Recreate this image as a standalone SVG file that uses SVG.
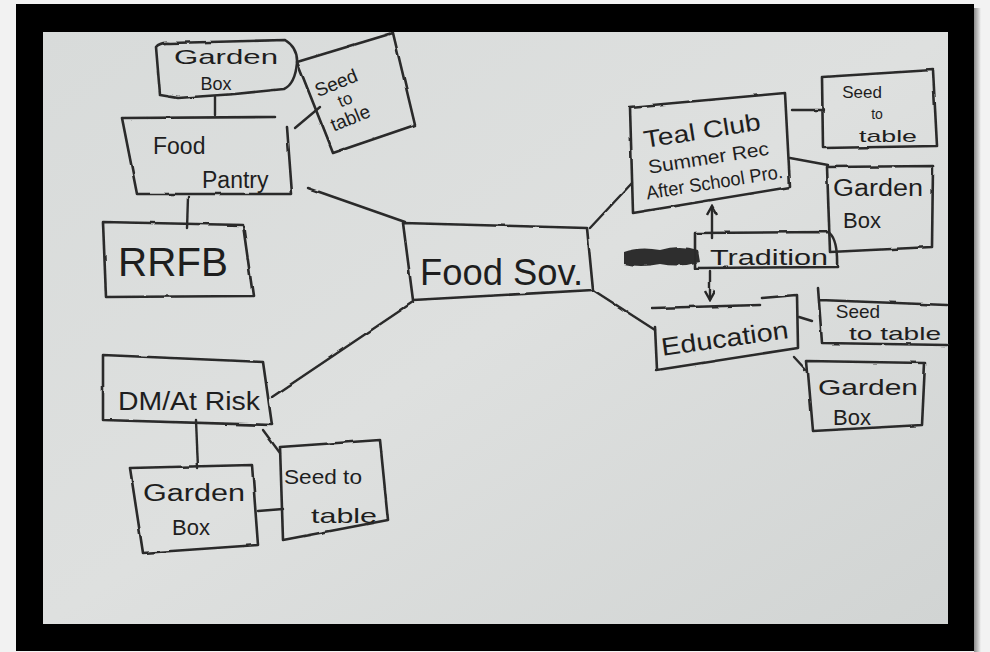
<svg xmlns="http://www.w3.org/2000/svg" width="990" height="652" viewBox="0 0 990 652">
  <defs>
    <linearGradient id="paper" x1="0" y1="0" x2="1" y2="1">
      <stop offset="0" stop-color="#d8dbda"/>
      <stop offset="0.5" stop-color="#dee0df"/>
      <stop offset="1" stop-color="#d1d4d3"/>
    </linearGradient>
    <linearGradient id="shadowR" x1="0" y1="0" x2="1" y2="0">
      <stop offset="0" stop-color="#8a8a8a"/>
      <stop offset="1" stop-color="#f2f2f2"/>
    </linearGradient>
    <filter id="rough" x="-5%" y="-5%" width="110%" height="110%">
      <feTurbulence type="fractalNoise" baseFrequency="0.05" numOctaves="2" seed="3" result="n"/>
      <feDisplacementMap in="SourceGraphic" in2="n" scale="2.5" xChannelSelector="R" yChannelSelector="G"/>
    </filter>
    <marker id="ah" viewBox="0 0 12 12" refX="10" refY="6" markerWidth="12" markerHeight="12" markerUnits="userSpaceOnUse" orient="auto">
      <path d="M1,1 L10,6 L1,11" fill="none" stroke="#262626" stroke-width="2.4"/>
    </marker>
  </defs>
  <style>
    .box { fill: none; stroke: #2a2a2a; stroke-width: 2.6; stroke-linejoin: round; stroke-linecap: round; }
    .ln { fill: none; stroke: #2a2a2a; stroke-width: 2.4; stroke-linecap: round; }
    .t { font-family: "Liberation Sans", "DejaVu Sans", sans-serif; fill: #1e1e1e; }
  </style>

  <!-- frame -->
  <rect x="0" y="0" width="990" height="652" fill="#f2f2f2"/>
  <rect x="974" y="8" width="7" height="644" fill="url(#shadowR)"/>
  <rect x="16" y="4" width="958" height="647" fill="#000"/>
  <rect x="43" y="32" width="905" height="592" fill="url(#paper)"/>

  <!-- connectors -->
  <g id="connectors" filter="url(#rough)">
    <line class="ln" x1="215" y1="97" x2="215" y2="115"/>
    <line class="ln" x1="295" y1="128" x2="320" y2="107"/>
    <line class="ln" x1="188" y1="197" x2="187" y2="228"/>
    <line class="ln" x1="308" y1="188" x2="405" y2="222"/>
    <line class="ln" x1="590" y1="228" x2="632" y2="183"/>
    <line class="ln" x1="593" y1="290" x2="655" y2="330"/>
    <line class="ln" x1="413" y1="302" x2="272" y2="397"/>
    <line class="ln" x1="196" y1="420" x2="198" y2="468"/>
    <line class="ln" x1="263" y1="430" x2="280" y2="453"/>
    <line class="ln" x1="258" y1="511" x2="283" y2="509"/>
    <line class="ln" x1="792" y1="110" x2="823" y2="110"/>
    <line class="ln" x1="790" y1="158" x2="828" y2="165"/>
    <line class="ln" x1="799" y1="317" x2="812" y2="321"/>
    <line class="ln" x1="794" y1="357" x2="806" y2="370"/>
    <line class="ln" x1="712" y1="238" x2="712" y2="206" marker-end="url(#ah)"/>
    <line class="ln" x1="710" y1="271" x2="710" y2="300" marker-end="url(#ah)"/>
  </g>

  <!-- nodes -->
  <g id="garden-box-1">
    <path class="box" filter="url(#rough)" d="M160,95 L156,47 Q160,42 170,43 L285,40 Q298,48 297,63 Q295,84 284,89 L235,94 L178,98 L160,95"/>
    <text class="t" x="226" y="64" font-size="21" text-anchor="middle" textLength="104" lengthAdjust="spacingAndGlyphs">Garden</text>
    <text class="t" x="216" y="90" font-size="18" text-anchor="middle">Box</text>
  </g>

  <g id="seed-to-table-1">
    <path class="box" filter="url(#rough)" d="M297,62 L393,33 L415,125 L333,153 Z"/>
    <g transform="rotate(-22 343 100)">
      <text class="t" x="343" y="88" font-size="19" text-anchor="middle">Seed</text>
      <text class="t" x="345" y="106" font-size="17" text-anchor="middle">to</text>
      <text class="t" x="343" y="126" font-size="19" text-anchor="middle">table</text>
    </g>
  </g>

  <g id="food-pantry">
    <path class="box" filter="url(#rough)" d="M122,118 L275,117 M287,127 L292,194 L137,194 L122,118"/>
    <text class="t" x="153" y="154" font-size="23">Food</text>
    <text class="t" x="202" y="188" font-size="23">Pantry</text>
  </g>

  <g id="rrfb">
    <path class="box" filter="url(#rough)" d="M103,222 L243,225 L253,296 L106,297 Z"/>
    <text class="t" x="118" y="276" font-size="40" textLength="110" lengthAdjust="spacingAndGlyphs">RRFB</text>
  </g>

  <g id="food-sov">
    <path class="box" filter="url(#rough)" d="M403,223 L587,228 L593,290 L413,300 Z"/>
    <text class="t" x="420" y="285" font-size="36" textLength="163" lengthAdjust="spacingAndGlyphs">Food Sov.</text>
  </g>

  <g id="teal-club">
    <path class="box" filter="url(#rough)" d="M630,107 L785,93 L790,187 L633,213 Z"/>
    <g transform="rotate(-9 710 155)">
      <text class="t" x="706" y="138" font-size="24" text-anchor="middle" textLength="118" lengthAdjust="spacingAndGlyphs">Teal Club</text>
      <text class="t" x="708" y="164" font-size="19" text-anchor="middle" textLength="122" lengthAdjust="spacingAndGlyphs">Summer Rec</text>
      <text class="t" x="710" y="189" font-size="19" text-anchor="middle" textLength="138" lengthAdjust="spacingAndGlyphs">After School Pro.</text>
    </g>
  </g>

  <g id="seed-to-table-2">
    <path class="box" filter="url(#rough)" d="M822,77 L933,70 L937,146 L823,148 Z"/>
    <text class="t" x="862" y="98" font-size="17" text-anchor="middle">Seed</text>
    <text class="t" x="877" y="119" font-size="14" text-anchor="middle">to</text>
    <text class="t" x="888" y="142" font-size="17" text-anchor="middle" textLength="58" lengthAdjust="spacingAndGlyphs">table</text>
  </g>

  <g id="garden-box-2">
    <path class="box" filter="url(#rough)" d="M827,167 L933,166 L932,247 L830,252 Z"/>
    <text class="t" x="878" y="196" font-size="23" text-anchor="middle" textLength="90" lengthAdjust="spacingAndGlyphs">Garden</text>
    <text class="t" x="862" y="228" font-size="22" text-anchor="middle">Box</text>
  </g>

  <g id="tradition">
    <path d="M624,252 Q640,246 660,250 Q680,244 698,250 L700,262 Q680,268 660,264 Q640,268 624,264 Z" fill="#2e2e2e" filter="url(#rough)"/>
    <path class="box" filter="url(#rough)" d="M695,268 L695,233 L828,232 Q838,238 837,267 Z"/>
    <text class="t" x="710" y="265" font-size="22" textLength="118" lengthAdjust="spacingAndGlyphs">Tradition</text>
  </g>

  <g id="education">
    <path class="box" filter="url(#rough)" d="M653,308 L760,305 M762,298 L797,295 L798,348 L657,370 L655,327"/>
    <text class="t" x="725" y="347" font-size="25" text-anchor="middle" transform="rotate(-8 725 340)" textLength="128" lengthAdjust="spacingAndGlyphs">Education</text>
  </g>

  <g id="seed-to-table-3">
    <path class="box" filter="url(#rough)" d="M818,288 L822,343 L947,345 M820,300 L947,305"/>
    <text class="t" x="858" y="318" font-size="19" text-anchor="middle">Seed</text>
    <text class="t" x="895" y="340" font-size="19" text-anchor="middle" textLength="92" lengthAdjust="spacingAndGlyphs">to table</text>
  </g>

  <g id="garden-box-3">
    <path class="box" filter="url(#rough)" d="M807,361 L925,363 L922,425 L813,431 Z"/>
    <text class="t" x="868" y="395" font-size="22" text-anchor="middle" textLength="100" lengthAdjust="spacingAndGlyphs">Garden</text>
    <text class="t" x="852" y="425" font-size="22" text-anchor="middle">Box</text>
  </g>

  <g id="dm-at-risk">
    <path class="box" filter="url(#rough)" d="M103,355 L263,362 L272,425 L103,420 Z"/>
    <text class="t" x="118" y="410" font-size="26" textLength="142" lengthAdjust="spacingAndGlyphs">DM/At Risk</text>
  </g>

  <g id="garden-box-4">
    <path class="box" filter="url(#rough)" d="M130,468 L252,465 L258,545 L143,553 Z"/>
    <text class="t" x="194" y="501" font-size="23" text-anchor="middle" textLength="102" lengthAdjust="spacingAndGlyphs">Garden</text>
    <text class="t" x="191" y="535" font-size="22" text-anchor="middle">Box</text>
  </g>

  <g id="seed-to-table-4">
    <path class="box" filter="url(#rough)" d="M280,447 L380,440 L388,520 L283,540 Z"/>
    <text class="t" x="323" y="484" font-size="21" text-anchor="middle" textLength="78" lengthAdjust="spacingAndGlyphs">Seed to</text>
    <text class="t" x="344" y="523" font-size="21" text-anchor="middle" textLength="66" lengthAdjust="spacingAndGlyphs">table</text>
  </g>
</svg>
